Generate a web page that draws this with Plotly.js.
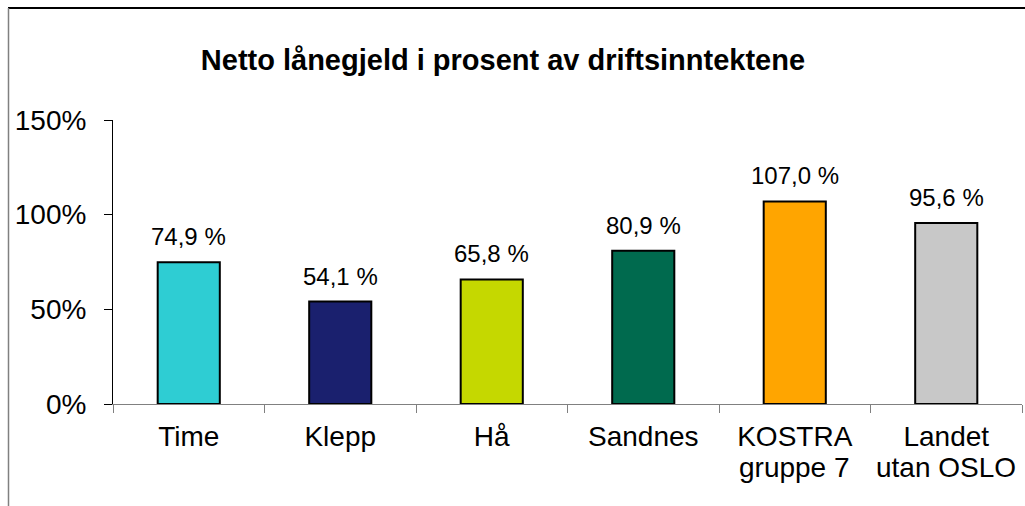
<!DOCTYPE html>
<html>
<head>
<meta charset="utf-8">
<script src="https://cdn.plot.ly/plotly-3.0.1.min.js"></script>
<style>html,body{margin:0;padding:0;background:#fff;}#chart{width:1025px;height:506px;}</style>
</head>
<body>
<div id="chart"></div>
<script>
const categories = ["Time", "Klepp", "Hå", "Sandnes", "KOSTRA gruppe 7", "Landet utan OSLO"];
const tickLine1 = ["Time", "Klepp", "Hå", "Sandnes", "KOSTRA", "Landet"];
const tickLine2 = ["", "", "", "", "gruppe 7", "utan OSLO"];
const values = [74.9, 54.1, 65.8, 80.9, 107.0, 95.6];
const barColors = ["#2ECDD3", "#1A206E", "#C5D800", "#006A4E", "#FFA500", "#C8C8C8"];
const yTickVals = [0, 50, 100, 150];
const yTickText = ["0%", "50%", "100%", "150%"];

const labels = values.map(v => v.toFixed(1).replace(".", ",") + " %");

const W = 1025, H = 506;
const m = {l: 113, r: 3, t: 120, b: 102};
const pw = W - m.l - m.r, ph = H - m.t - m.b;
const px2x = px => (px - m.l) / pw;
const py2y = py => (H - m.b - py) / ph;
const FONT = "Liberation Sans, Arial, sans-serif";

const trace = {
  type: "bar",
  x: categories,
  y: values,
  marker: {color: barColors, line: {color: "#000", width: 2}},
  hoverinfo: "none"
};

const annotations = [];
categories.forEach((c, i) => {
  annotations.push({
    x: c, y: values[i], xref: "x", yref: "y",
    text: labels[i], showarrow: false,
    yanchor: "bottom", xanchor: "center", yshift: 10,
    font: {family: FONT, size: 24, color: "#000"}
  });
  if (tickLine2[i]) {
    annotations.push({
      x: c, y: py2y(450), xref: "x", yref: "paper",
      text: tickLine2[i], showarrow: false,
      yanchor: "top", xanchor: "center",
      font: {family: FONT, size: 28, color: "#000"}
    });
  }
});

const layout = {
  width: W, height: H,
  margin: m,
  paper_bgcolor: "#fff",
  plot_bgcolor: "#fff",
  showlegend: false,
  bargap: 0.59,
  font: {family: FONT, color: "#000"},
  title: {
    text: "<b>Netto lånegjeld i prosent av driftsinntektene</b>",
    font: {size: 29, family: FONT, color: "#000"},
    x: 0.4907, xanchor: "center",
    y: 1 - 60 / H, yanchor: "middle", yref: "container"
  },
  xaxis: {
    type: "category",
    tickvals: categories,
    ticktext: tickLine1,
    showgrid: false,
    showline: true, linecolor: "#808080", linewidth: 1,
    ticks: "outside", tickson: "boundaries", ticklen: 8, tickcolor: "#808080", tickwidth: 1,
    tickfont: {size: 28, color: "#000"},
    ticklabelstandoff: 7,
    fixedrange: true
  },
  yaxis: {
    range: [0, 150],
    tickvals: yTickVals,
    ticktext: yTickText,
    showgrid: false, zeroline: false,
    showline: true, linecolor: "#000", linewidth: 1,
    ticks: "outside", ticklen: 8, tickcolor: "#000", tickwidth: 1,
    tickfont: {size: 28, color: "#000"},
    ticklabelstandoff: 12,
    fixedrange: true
  },
  annotations: annotations,
  shapes: [
    {type: "line", xref: "paper", yref: "paper",
     x0: px2x(8), x1: px2x(1026), y0: py2y(8), y1: py2y(8),
     line: {color: "#000", width: 2}},
    {type: "line", xref: "paper", yref: "paper",
     x0: px2x(8.5), x1: px2x(8.5), y0: py2y(8), y1: py2y(507),
     line: {color: "#808080", width: 1.5}}
  ]
};

Plotly.newPlot("chart", [trace], layout, {displayModeBar: false, staticPlot: true});
</script>
</body>
</html>
